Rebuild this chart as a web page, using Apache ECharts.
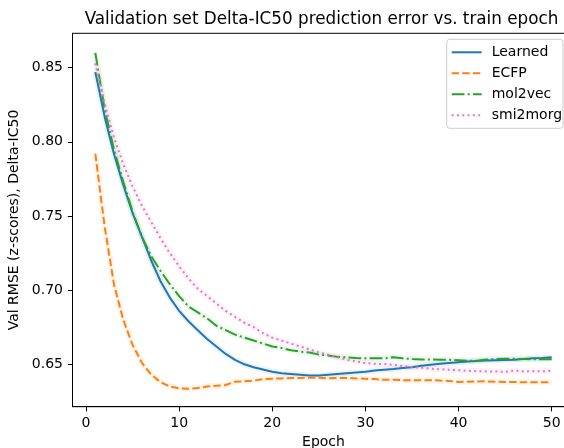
<!DOCTYPE html>
<html><head><meta charset="utf-8">
<script src="https://cdn.jsdelivr.net/npm/echarts@6/dist/echarts.min.js"></script>
<style>html,body{margin:0;padding:0;background:#fff}#c{width:564px;height:448px}</style>
</head><body><div id="c"></div>
<script>
const epochs = Array.from({length:50},(_,i)=>i+1);
const learned = [0.847,0.817,0.792,0.771,0.752,0.736,0.720,0.706,0.695,0.686,0.679,0.673,0.667,0.662,0.657,0.653,0.650,0.648,0.6465,0.645,0.644,0.6435,0.643,0.6425,0.6425,0.643,0.6435,0.644,0.6445,0.645,0.6458,0.6463,0.6468,0.6475,0.648,0.649,0.6497,0.6503,0.6508,0.6513,0.6518,0.6522,0.6525,0.6527,0.6529,0.6531,0.6535,0.654,0.6543,0.6547];
const ecfp = [0.792,0.743,0.704,0.680,0.663,0.651,0.643,0.638,0.635,0.6338,0.6335,0.634,0.635,0.6355,0.636,0.6383,0.6385,0.639,0.640,0.6403,0.6405,0.6407,0.6408,0.641,0.641,0.6405,0.6408,0.6408,0.6405,0.6402,0.640,0.6395,0.6395,0.6393,0.6393,0.6392,0.6393,0.639,0.6388,0.638,0.6383,0.6384,0.6385,0.6382,0.638,0.638,0.6379,0.6379,0.6379,0.6379];
const mol2vec = [0.860,0.822,0.795,0.773,0.753,0.736,0.723,0.713,0.704,0.696,0.689,0.685,0.681,0.676,0.673,0.670,0.668,0.666,0.664,0.662,0.661,0.6595,0.6585,0.658,0.6565,0.656,0.655,0.6547,0.6543,0.654,0.654,0.654,0.6547,0.654,0.6535,0.6533,0.6532,0.6531,0.653,0.6527,0.6524,0.6524,0.6532,0.6535,0.6538,0.6537,0.6535,0.6534,0.6534,0.6534];
const smi2morg = [0.853,0.826,0.803,0.785,0.770,0.757,0.746,0.735,0.725,0.716,0.708,0.701,0.696,0.691,0.686,0.682,0.678,0.675,0.671,0.668,0.666,0.664,0.662,0.660,0.658,0.6565,0.6548,0.653,0.652,0.6508,0.6504,0.6501,0.6496,0.6488,0.6481,0.6476,0.647,0.6467,0.6463,0.646,0.6456,0.6454,0.6452,0.6451,0.6449,0.6457,0.6452,0.6453,0.6452,0.6457];
const xTicks = [0,10,20,30,40,50];
const yTicks = [0.65,0.70,0.75,0.80,0.85];
const names = ['Learned','ECFP','mol2vec','smi2morg'];
const colors = ['#1f77b4','#ff7f0e','#2ca02c','#e377c2'];
const dashes = ['solid',[7.4,3.2],[12.8,3.2,2,3.2],[2,3.3]];
const values = [learned, ecfp, mol2vec, smi2morg];
const titleText = 'Validation set Delta-IC50 prediction error vs. train epoch';

const FONT = 'DejaVu Sans';
const FS = 14;
const series = [];
values.forEach((vals, i) => {
  const data = epochs.map((e, k) => [e, vals[k]]);
  series.push({
    name: names[i] + ' band', type: 'line', data, showSymbol: false, symbol: 'none', silent: true,
    lineStyle: {color: colors[i], width: 6, opacity: 0.08}, z: 1, animation: false
  });
  series.push({
    name: names[i], type: 'line', data, showSymbol: false, symbol: 'none',
    lineStyle: {color: colors[i], width: 2, type: dashes[i], cap: 'butt'},
    itemStyle: {color: colors[i]}, z: 2 + i, animation: false
  });
});

const chart = echarts.init(document.getElementById('c'));
chart.setOption({
  animation: false,
  textStyle: {fontFamily: FONT},
  graphic: [{
    type: 'text', x: 321.5, y: 19.5,
    style: {text: titleText, fontFamily: FONT, fontSize: 16.8, fill: '#000',
      textAlign: 'center', textVerticalAlign: 'middle', verticalAlign: 'middle'}
  }],
  legend: {
    data: names, orient: 'vertical', left: 446.7, top: 39.3,
    padding: [5, 1, 5, 4], itemWidth: 30, itemHeight: 14, itemGap: 5,
    itemStyle: {opacity: 0},
    backgroundColor: '#fff', borderColor: '#cccccc', borderWidth: 1, borderRadius: 3,
    textStyle: {fontFamily: FONT, fontSize: FS, color: '#000', lineHeight: 16, padding: [0,0,0,5]}
  },
  grid: {left: 72.5, top: 33.3, width: 502, height: 373.4, outerBoundsMode: 'none', containLabel: false,
    show: true, borderColor: '#000', borderWidth: 1, backgroundColor: 'transparent'},
  xAxis: {
    type: 'value', min: -1.45, max: 52.45,
    name: 'Epoch', nameLocation: 'middle', nameGap: 29,
    nameTextStyle: {fontFamily: FONT, fontSize: FS, color: '#000'},
    axisLine: {show: true, onZero: false, lineStyle: {color: '#000', width: 1}},
    axisTick: {show: true, length: 4.7, inside: false, customValues: xTicks, lineStyle: {color: '#000'}},
    axisLabel: {customValues: xTicks, margin: 9.5, fontFamily: FONT, fontSize: FS, color: '#000'},
    splitLine: {show: false}
  },
  yAxis: {
    type: 'value', min: 0.6214, max: 0.8732,
    name: 'Val RMSE (z-scores), Delta-IC50', nameLocation: 'middle', nameGap: 49,
    nameTextStyle: {fontFamily: FONT, fontSize: FS, color: '#000'},
    axisLine: {show: true, onZero: false, lineStyle: {color: '#000', width: 1}},
    axisTick: {show: true, length: 4.7, inside: false, customValues: yTicks, lineStyle: {color: '#000'}},
    axisLabel: {customValues: yTicks, margin: 9.5, fontFamily: FONT, fontSize: FS, color: '#000',
      formatter: v => v.toFixed(2)},
    splitLine: {show: false}
  },
  series
});
</script></body></html>
